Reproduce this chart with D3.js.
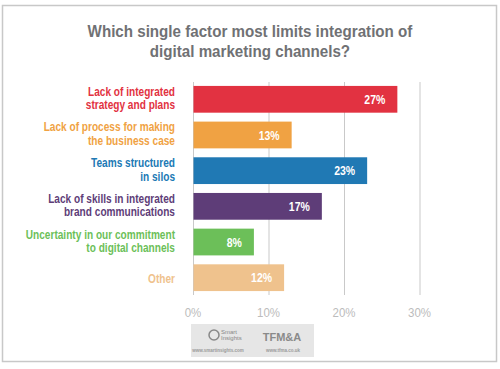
<!DOCTYPE html>
<html>
<head>
<meta charset="utf-8">
<script src="https://cdn.jsdelivr.net/npm/d3@7"></script>
<style>
  body { margin: 0; background: #fff; }
  text { font-family: "Liberation Sans", "Arial", sans-serif; }
</style>
</head>
<body>
<div id="chart"></div>
<script>
// ---- data ---------------------------------------
var categories = [
  ["Lack of integrated", "strategy and plans"],
  ["Lack of process for making", "the business case"],
  ["Teams structured", "in silos"],
  ["Lack of skills in integrated", "brand communications"],
  ["Uncertainty in our commitment", "to digital channels"],
  ["Other"]
];
var values = [27, 13, 23, 17, 8, 12];
var colors = ["#e23241", "#f0a243", "#2079b4", "#5e3d78", "#6cbf59", "#efc28d"];
var ticks = [0, 10, 20, 30];
var title = ["Which single factor most limits integration of", "digital marketing channels?"];

// ---- layout -------------------------------------
var W = 500, H = 369;
var svg = d3.select("#chart").append("svg")
  .attr("width", W).attr("height", H);

// squeeze text horizontally, the original uses a condensed face
function squeeze(sel, X, s) {
  sel.attr("x", X / s).attr("transform", "scale(" + s + ",1)");
}
function widthOf(str, size, weight) {
  var t = svg.append("text").attr("font-size", size).attr("font-weight", weight).text(str);
  var w = t.node().getComputedTextLength();
  t.remove();
  return w;
}

// frame
svg.append("rect")
  .attr("x", 2.5).attr("y", 5.5)
  .attr("width", 494).attr("height", 356)
  .attr("fill", "#fff")
  .attr("stroke", "#c8c8c8")
  .attr("stroke-width", 1.5);

var sTitle = 325 / widthOf(title[0], 16.5, "bold");
svg.selectAll(".title")
  .data(title)
  .enter().append("text")
  .attr("class", "title")
  .attr("y", (d, i) => 37.5 + i * 19.5)
  .attr("text-anchor", "middle")
  .attr("fill", "#707174")
  .attr("font-weight", "bold")
  .attr("font-size", 16.5)
  .text(d => d)
  .call(squeeze, 250, sTitle);

var x = d3.scaleLinear().domain([0, 30]).range([193.5, 420]);
var y = d3.scaleBand().domain(d3.range(values.length))
  .range([82, 295]).paddingInner(0.25).paddingOuter(0.11);

// grid
svg.selectAll(".grid")
  .data(ticks)
  .enter().append("line")
  .attr("class", "grid")
  .attr("x1", d => x(d)).attr("x2", d => x(d))
  .attr("y1", 82).attr("y2", 295)
  .attr("stroke", "#c9c9c9")
  .attr("stroke-width", 1);

// axis labels
var sTick = 23 / widthOf("30%", 12, "normal");
var axis = svg.append("g")
  .attr("transform", "translate(-1,308)")
  .call(d3.axisBottom(x).tickValues(ticks).tickSize(0).tickFormat(d => d + "%"));
axis.select(".domain").remove();
axis.selectAll(".tick text")
  .attr("fill", "#bcbcbc")
  .attr("font-size", 12)
  .attr("y", 0)
  .attr("dy", "0.71em")
  .style("font-family", "'Liberation Sans', Arial, sans-serif")
  .call(squeeze, 0, sTick);

// bars
svg.selectAll(".bar")
  .data(values)
  .enter().append("rect")
  .attr("class", "bar")
  .attr("x", x(0))
  .attr("y", (d, i) => y(i))
  .attr("width", d => x(d) - x(0))
  .attr("height", y.bandwidth())
  .attr("fill", (d, i) => colors[i]);

// value labels
var sVal = 21 / widthOf("27%", 13, "bold");
svg.selectAll(".val")
  .data(values)
  .enter().append("text")
  .attr("class", "val")
  .attr("y", (d, i) => y(i) + y.bandwidth() / 2)
  .attr("dy", "0.36em")
  .attr("text-anchor", "end")
  .attr("fill", "#fff")
  .attr("font-weight", "bold")
  .attr("font-size", 13)
  .text(d => d + "%")
  .each(function (d) { d3.select(this).call(squeeze, x(d) - 12, sVal); });

// category labels, one text per line
var sCat = 87 / widthOf("Lack of integrated", 12.5, "bold");
var lines = [];
categories.forEach((c, i) => {
  c.forEach((s, k) => lines.push({ s: s, i: i, k: k, n: c.length }));
});
svg.selectAll(".cat")
  .data(lines)
  .enter().append("text")
  .attr("class", "cat")
  .attr("y", d => y(d.i) + y.bandwidth() / 2 + (d.n == 1 ? 5.5 : (d.k == 0 ? -3.5 : 10)))
  .attr("text-anchor", "end")
  .attr("fill", d => colors[d.i])
  .attr("font-weight", "bold")
  .attr("font-size", 12.5)
  .text(d => d.s)
  .call(squeeze, 175, sCat);

// logo box
var logo = svg.append("g");
logo.append("rect")
  .attr("x", 191).attr("y", 324)
  .attr("width", 123).attr("height", 33)
  .attr("fill", "#e6e6e6");
logo.append("circle").attr("cx", 214).attr("cy", 335).attr("r", 5)
  .attr("fill", "none").attr("stroke", "#888").attr("stroke-width", 1.5);
logo.append("text").attr("x", 221).attr("y", 334)
  .attr("font-size", 6).attr("fill", "#888").text("Smart");
logo.append("text").attr("x", 221).attr("y", 340)
  .attr("font-size", 6).attr("fill", "#888").text("Insights");
logo.append("text").attr("x", 282).attr("y", 341)
  .attr("text-anchor", "middle")
  .attr("font-size", 11).attr("font-weight", "bold").attr("fill", "#8a8a8a").text("TFM&A");
logo.append("text").attr("x", 218).attr("y", 352)
  .attr("text-anchor", "middle")
  .attr("font-size", 4.5).attr("font-weight", "bold").attr("fill", "#9a9a9a").text("www.smartinsights.com");
logo.append("text").attr("x", 283).attr("y", 352)
  .attr("text-anchor", "middle")
  .attr("font-size", 4.5).attr("font-weight", "bold").attr("fill", "#9a9a9a").text("www.tfma.co.uk");
</script>
</body>
</html>
